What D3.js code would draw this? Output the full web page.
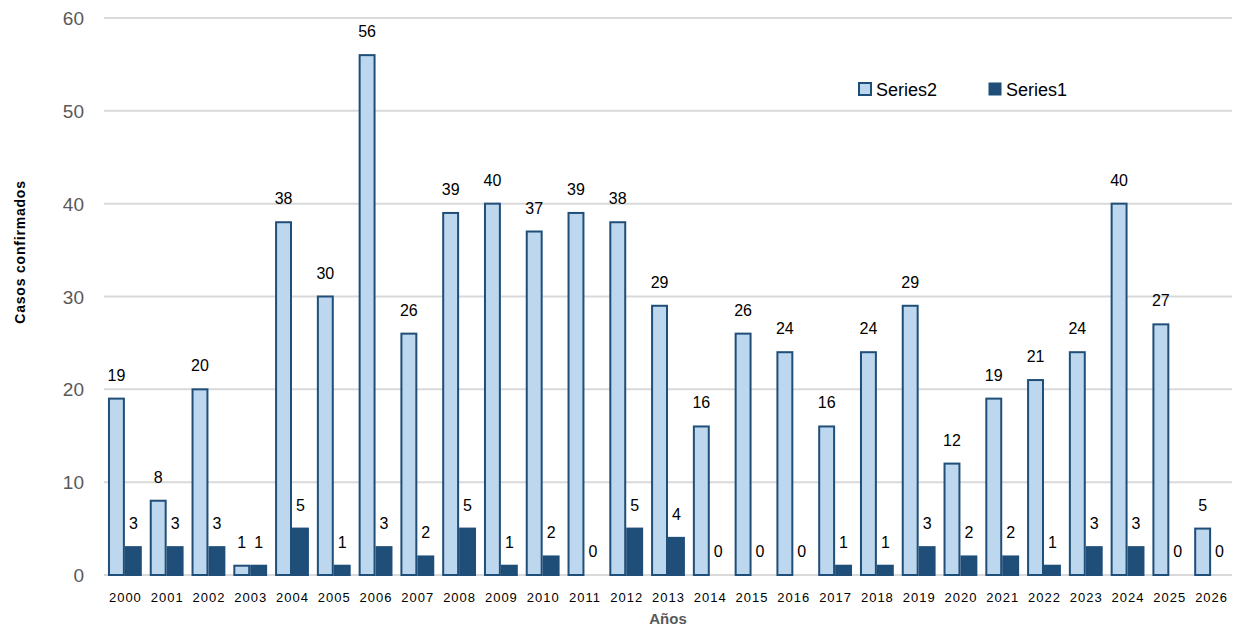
<!DOCTYPE html>
<html>
<head>
<meta charset="utf-8">
<script src="https://cdn.jsdelivr.net/npm/d3@7"></script>
<style>
  body { margin: 0; background: #fff; }
  svg { display: block; }
</style>
</head>
<body>
<div id="chart"></div>
<script>
// chart values
const years = ["2000","2001","2002","2003","2004","2005","2006","2007","2008","2009","2010","2011","2012","2013","2014","2015","2016","2017","2018","2019","2020","2021","2022","2023","2024","2025","2026"];
const series2 = [19, 8, 20, 1, 38, 30, 56, 26, 39, 40, 37, 39, 38, 29, 16, 26, 24, 16, 24, 29, 12, 19, 21, 24, 40, 27, 5];
const series1 = [3, 3, 3, 1, 5, 1, 3, 2, 5, 1, 2, 0, 5, 4, 0, 0, 0, 1, 1, 3, 2, 2, 1, 3, 3, 0, 0];
const seriesNames = ["Series2", "Series1"];
const yTicks = [0, 10, 20, 30, 40, 50, 60];

const width = 1240, height = 627;
const plot = { left: 104, right: 1232, top: 18, bottom: 575 };

const colors = { Series2: "#BDD7EE", Series1: "#1F4E79" };
const stroke = "#1F4E79";

const svg = d3.select("#chart").append("svg")
    .attr("width", width)
    .attr("height", height);

const x = d3.scaleBand()
    .domain(years)
    .range([plot.left, plot.right])
    .paddingInner(0.19)
    .paddingOuter(0.095);

const x1 = d3.scaleBand()
    .domain(seriesNames)
    .range([0, x.bandwidth()]);

const y = d3.scaleLinear()
    .domain([0, 60])
    .range([plot.bottom, plot.top]);

// gridlines
svg.append("g")
    .selectAll("line")
    .data(yTicks)
    .join("line")
    .attr("x1", plot.left)
    .attr("x2", plot.right)
    .attr("y1", d => y(d))
    .attr("y2", d => y(d))
    .attr("stroke", "#d9d9d9")
    .attr("stroke-width", 2);

// y axis labels
svg.append("g")
    .attr("font-family", "'Liberation Sans', Arial, sans-serif")
    .attr("font-size", 19)
    .attr("fill", "#595959")
    .selectAll("text")
    .data(yTicks)
    .join("text")
    .attr("x", 84)
    .attr("y", d => y(d) + 7)
    .attr("text-anchor", "end")
    .text(d => d);

const rows = years.map((yr, i) => ({ year: yr, Series2: series2[i], Series1: series1[i] }));

const groups = svg.append("g")
    .selectAll("g")
    .data(rows)
    .join("g")
    .attr("transform", d => `translate(${x(d.year)},0)`);

// bars
groups.selectAll("rect")
    .data(d => seriesNames.map(k => ({ key: k, value: d[k] })).filter(e => e.value > 0))
    .join("rect")
    .attr("x", d => x1(d.key) + 1)
    .attr("y", d => y(d.value))
    .attr("width", x1.bandwidth() - 2)
    .attr("height", d => y(0) - y(d.value))
    .attr("fill", d => colors[d.key])
    .attr("stroke", stroke)
    .attr("stroke-width", 2);

// data labels
groups.selectAll("text")
    .data(d => seriesNames.map(k => ({ key: k, value: d[k] })))
    .join("text")
    .attr("x", d => x1(d.key) + x1.bandwidth() / 2)
    .attr("y", d => y(d.value) - 18)
    .attr("text-anchor", "middle")
    .attr("font-family", "'Liberation Sans', Arial, sans-serif")
    .attr("font-size", 16)
    .attr("fill", "#000")
    .text(d => d.value);

// x axis labels
svg.append("g")
    .attr("font-family", "'Liberation Sans', Arial, sans-serif")
    .attr("font-size", 13)
    .attr("letter-spacing", 1)
    .attr("fill", "#000")
    .selectAll("text")
    .data(years)
    .join("text")
    .attr("x", d => x(d) + x.bandwidth() / 2 + 0.5)
    .attr("y", 602)
    .attr("text-anchor", "middle")
    .text(d => d);

// axis titles
svg.append("text")
    .attr("x", (plot.left + plot.right) / 2)
    .attr("y", 624)
    .attr("text-anchor", "middle")
    .attr("font-family", "'Liberation Sans', Arial, sans-serif")
    .attr("font-size", 15)
    .attr("font-weight", "bold")
    .attr("fill", "#595959")
    .text("Años");

svg.append("text")
    .attr("transform", "translate(25,252) rotate(-90)")
    .attr("text-anchor", "middle")
    .attr("font-family", "'Liberation Sans', Arial, sans-serif")
    .attr("font-size", 14)
    .attr("font-weight", "bold")
    .attr("letter-spacing", 0.8)
    .attr("fill", "#000")
    .text("Casos confirmados");

// legend
const legend = svg.append("g")
    .attr("font-family", "'Liberation Sans', Arial, sans-serif")
    .attr("font-size", 18)
    .attr("fill", "#000");

const legendX = [859, 989];
seriesNames.forEach((name, i) => {
    legend.append("rect")
        .attr("x", legendX[i])
        .attr("y", 83)
        .attr("width", 12)
        .attr("height", 12)
        .attr("fill", colors[name])
        .attr("stroke", stroke)
        .attr("stroke-width", name === "Series2" ? 2 : 1);
    legend.append("text")
        .attr("x", legendX[i] + 17)
        .attr("y", 96)
        .text(name);
});
</script>
</body>
</html>
